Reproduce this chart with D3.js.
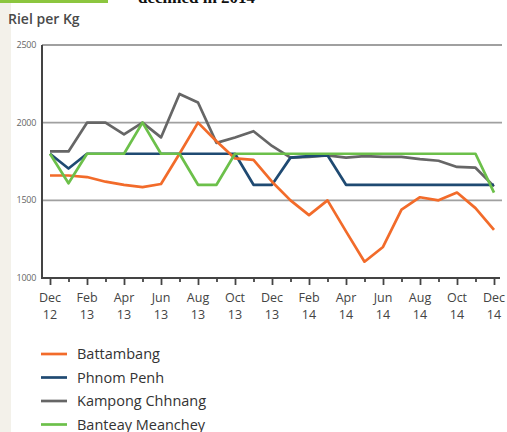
<!DOCTYPE html>
<html>
<head>
<meta charset="utf-8">
<script src="https://cdn.jsdelivr.net/npm/d3@7"></script>
<style>
  body { margin: 0; background: #fff; }
  svg { display: block; }
</style>
</head>
<body>
<script>
// months Dec 12 .. Dec 14 (25 points)
const months = ["Dec 12","Jan 13","Feb 13","Mar 13","Apr 13","May 13","Jun 13","Jul 13","Aug 13","Sep 13","Oct 13","Nov 13",
  "Dec 13","Jan 14","Feb 14","Mar 14","Apr 14","May 14","Jun 14","Jul 14","Aug 14","Sep 14","Oct 14","Nov 14","Dec 14"]

const battambang = [1660,1660,1650,1620,1600,1585,1605,1800,2000,1880,1770,1760,1620,1500,1405,1500,1300,1105,1200,1440,1520,1500,1550,1450,1310]
const phnomPenh = [1800,1705,1800,1800,1800,1800,1800,1800,1800,1800,1800,1600,1600,1775,1785,1790,1600,1600,1600,1600,1600,1600,1600,1600,1600]
const kampong = [1815,1815,2000,2000,1925,2000,1905,2185,2130,1870,1905,1945,1850,1775,1780,1790,1775,1785,1780,1780,1765,1755,1715,1710,1590]
const banteay = [1800,1610,1800,1800,1800,2000,1800,1800,1600,1600,1800,1800,1800,1800,1800,1800,1800,1800,1800,1800,1800,1800,1800,1800,1550]

const seriesNames = ["Battambang", "Phnom Penh", "Kampong Chhnang", "Banteay Meanchey"]
const seriesColors = ["#f26b2a", "#1f4a72", "#666666", "#6cc04a"]
const yTicks = [1000, 1500, 2000, 2500]

const W = 507, H = 432
const svg = d3.select("body").append("svg").attr("width", W).attr("height", H)

// left beige strip and clipped header remains
svg.append("rect").attr("x", 0).attr("y", 0).attr("width", 11).attr("height", H).attr("fill", "#f3f1ea")
svg.append("rect").attr("x", 0).attr("y", 0).attr("width", 108).attr("height", 3).attr("fill", "#8cc63f")
svg.append("text").attr("x", 138).attr("y", 3)
  .attr("font-family", "'Liberation Serif', serif").attr("font-size", 17).attr("font-weight", 700)
  .attr("fill", "#111")
  .text("declined in 2014")

let x = d3.scaleLinear().domain([0, 24]).range([50, 494])
let y = d3.scaleLinear().domain([1000, 2500]).range([278, 45])

svg.append("text").attr("x", 8).attr("y", 24)
  .attr("font-family", "'Open Sans', sans-serif").attr("font-size", 14).attr("font-weight", 600)
  .attr("fill", "#4a4a4a").text("Riel per Kg")

// grid lines
svg.append("g").selectAll("line")
  .data(yTicks.slice(1)).enter()
  .append("line")
    .attr("x1", 42).attr("x2", 502)
    .attr("y1", d => y(d)).attr("y2", d => y(d))
    .attr("stroke", "#a0a0a0").attr("stroke-width", 1.8)

// y labels
svg.append("g").selectAll("text")
  .data(yTicks).enter()
  .append("text")
    .attr("x", 36).attr("y", d => y(d) + 3)
    .attr("text-anchor", "end")
    .attr("font-family", "'Open Sans', sans-serif").attr("font-size", 9)
    .attr("letter-spacing", -0.3)
    .attr("fill", "#666").text(d => d)

// x axis ticks
let xAxis = d3.axisBottom(x).tickValues(d3.range(0, 25)).tickSize(5).tickFormat("")
let gx = svg.append("g").attr("transform", "translate(0," + y(1000) + ")").call(xAxis)
gx.select(".domain").remove()
gx.selectAll(".tick line").attr("stroke", "#444").attr("stroke-width", 1.8)
  .attr("y2", (d) => d % 2 === 0 ? 7 : 4)

// labels on even months
let lab = svg.append("g").selectAll("text")
  .data(months.filter((m, i) => i % 2 === 0)).enter()
  .append("text")
    .attr("text-anchor", "middle")
    .attr("font-family", "'Open Sans', sans-serif").attr("font-size", 12.5)
    .attr("fill", "#444")
lab.append("tspan").attr("x", (d, i) => x(i * 2)).attr("y", 302).text(d => d.split(" ")[0])
lab.append("tspan").attr("x", (d, i) => x(i * 2)).attr("y", 319).text(d => d.split(" ")[1])

// axes lines
svg.append("line").attr("x1", 42).attr("x2", 42).attr("y1", 45).attr("y2", 279)
  .attr("stroke", "#444").attr("stroke-width", 2)
svg.append("line").attr("x1", 41).attr("x2", 500).attr("y1", 278).attr("y2", 278)
  .attr("stroke", "#444").attr("stroke-width", 2)

// lines (draw order: grey, blue, orange, green on top)
const allSeries = [battambang, phnomPenh, kampong, banteay]
const line = d3.line().x((d, i) => x(i)).y(d => y(d))
const order = [2, 1, 0, 3]
svg.append("g").selectAll("path")
  .data(order).enter()
  .append("path")
    .attr("d", k => line(allSeries[k]))
    .attr("fill", "none")
    .attr("stroke", k => seriesColors[k])
    .attr("stroke-width", 2.7)
    .attr("stroke-linejoin", "round")

// legend
let leg = svg.append("g").selectAll("g")
  .data(seriesNames).enter()
  .append("g").attr("transform", (d, i) => "translate(0," + (354 + i * 23.5) + ")")
leg.append("line").attr("x1", 41).attr("x2", 67).attr("y1", 0).attr("y2", 0)
  .attr("stroke", (d, i) => seriesColors[i]).attr("stroke-width", 2.7)
leg.append("text").attr("x", 77).attr("y", 5)
  .attr("font-family", "'Open Sans', sans-serif").attr("font-size", 14.5).attr("font-weight", 500)
  .attr("fill", "#333").text(d => d)
</script>
</body>
</html>
